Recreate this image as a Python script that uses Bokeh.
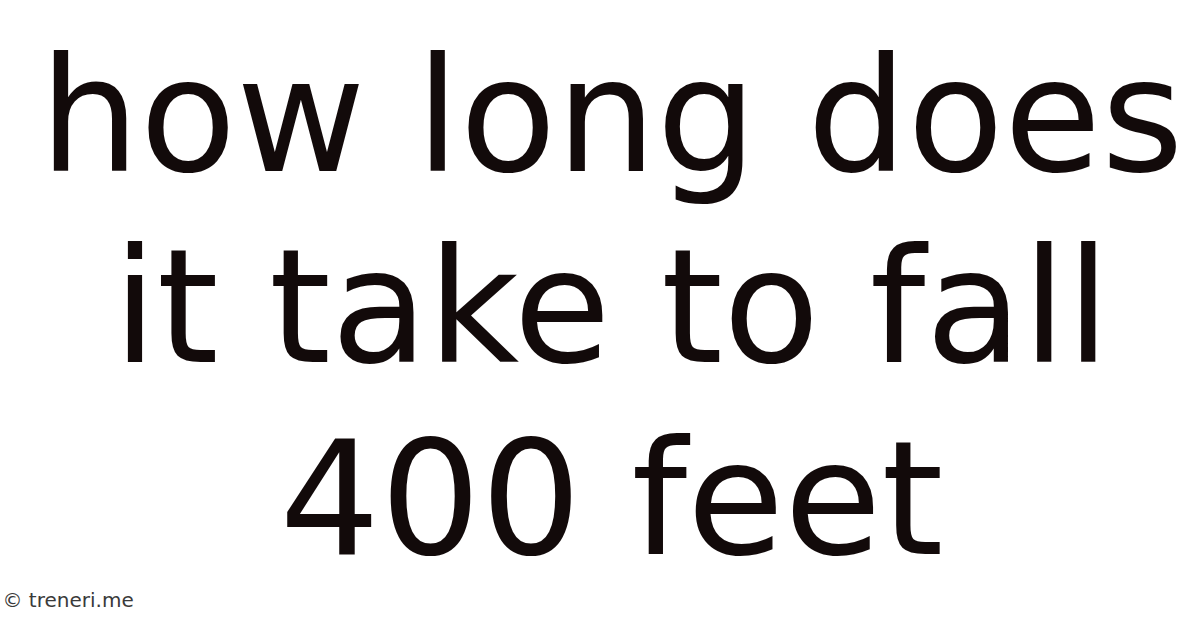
from bokeh.plotting import figure
from bokeh.models import Range1d
from bokeh.core.properties import value
from bokeh.embed import file_html
from bokeh.resources import INLINE

# Content
title_lines = ["how long does", "it take to fall", "400 feet"]
line_baselines = [172, 363, 555]   # screen px of each baseline
watermark = "© treneri.me"

W, H = 1184, 612
p = figure(width=W, height=H, output_backend="svg", toolbar_location=None,
           x_range=Range1d(8, 8 + W), y_range=Range1d(8 + H, 8),
           min_border=0)
p.axis.visible = False
p.grid.visible = False
p.outline_line_color = None
p.background_fill_color = "white"
p.border_fill_color = "white"

p.text(x=[619] * len(title_lines), y=line_baselines, text=title_lines,
       text_font=value("DejaVu Sans"), text_font_size="158px",
       text_color="#120a0a", text_align="center", text_baseline="alphabetic",
       y_offset=-49)

p.text(x=[10], y=[607], text=[watermark],
       text_font=value("DejaVu Sans"), text_font_size="20px",
       text_color="#3a3a3a", text_align="left", text_baseline="alphabetic")

open("out.html", "w").write(file_html(p, INLINE))
